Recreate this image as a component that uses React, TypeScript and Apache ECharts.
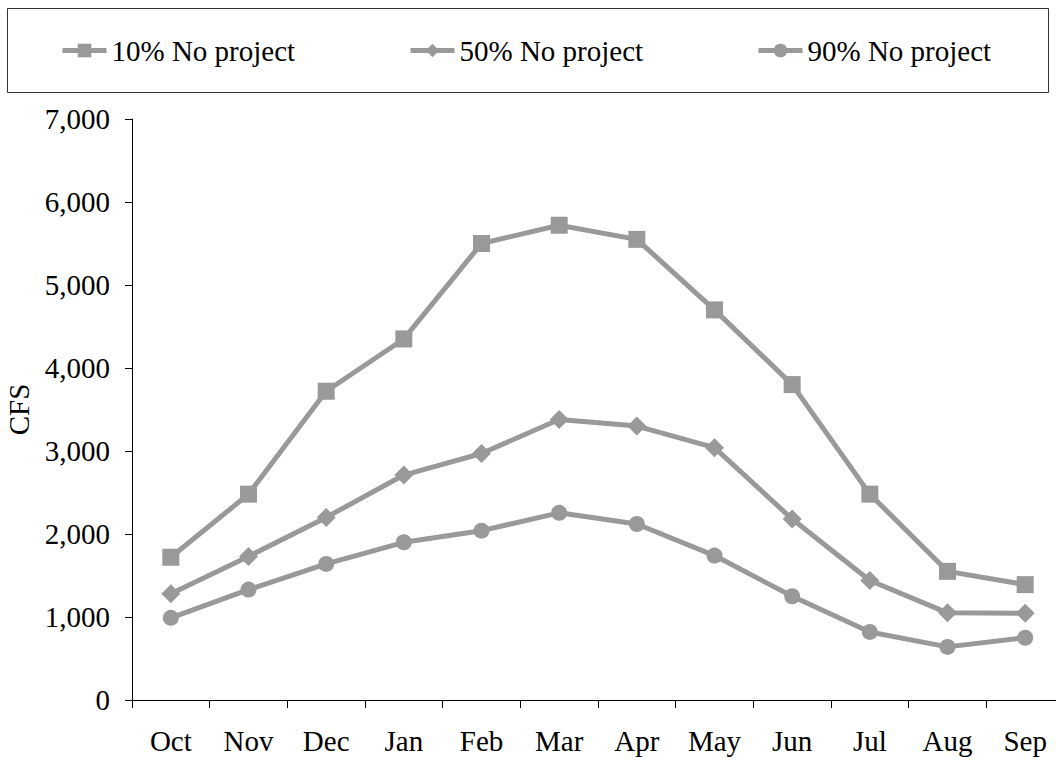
import React, { useEffect, useRef } from "react";
import * as echarts from "echarts";

const months = ["Oct", "Nov", "Dec", "Jan", "Feb", "Mar", "Apr", "May", "Jun", "Jul", "Aug", "Sep"];
const p10 = [1720, 2480, 3720, 4350, 5500, 5720, 5550, 4700, 3800, 2480, 1550, 1390];
const p50 = [1280, 1730, 2200, 2710, 2970, 3380, 3300, 3040, 2180, 1440, 1050, 1045];
const p90 = [990, 1330, 1640, 1900, 2040, 2255, 2120, 1740, 1250, 820, 640, 750];
const seriesNames = ["10% No project", "50% No project", "90% No project"];
const yTicks = { min: 0, max: 7000, interval: 1000 };

const FONT = "'Liberation Serif', 'Times New Roman', serif";
const GRAY = "#999999";

export default function App() {
  const ref = useRef<HTMLDivElement>(null);
  useEffect(() => {
    if (!ref.current) return;
    const chart = echarts.init(ref.current, undefined, { renderer: "svg" });
    const mk = (name: string, data: number[], symbol: string, size: number) => ({
      name,
      type: "line",
      data,
      symbol,
      symbolSize: size,
      lineStyle: { color: GRAY, width: 5 },
      itemStyle: { color: GRAY },
    });
    const legendBase = {
      top: 31,
      itemWidth: 44,
      itemHeight: 17,
      itemGap: 4,
      lineStyle: { width: 5 },
      textStyle: { fontFamily: FONT, fontSize: 29, color: "#000" },
    };
    chart.setOption({
      animation: false,
      backgroundColor: "#fff",
      graphic: [
        {
          type: "rect",
          shape: { x: 7.5, y: 8.5, width: 1041, height: 84 },
          style: { fill: "none", stroke: "#333", lineWidth: 1 },
        },
      ],
      legend: [
        { ...legendBase, left: 55, data: [seriesNames[0]] },
        { ...legendBase, left: 403, data: [seriesNames[1]] },
        { ...legendBase, left: 751, data: [seriesNames[2]] },
      ],
      grid: { left: 132, right: -8, top: 119, bottom: 61, containLabel: false, outerBoundsMode: "none" },
      xAxis: {
        type: "category",
        data: months,
        boundaryGap: true,
        axisLine: { lineStyle: { color: "#000", width: 1 } },
        axisTick: { show: true, length: 8, lineStyle: { color: "#000" } },
        axisLabel: { fontFamily: FONT, fontSize: 29, color: "#000", margin: 26 },
        splitLine: { show: false },
      },
      yAxis: {
        type: "value",
        min: yTicks.min,
        max: yTicks.max,
        interval: yTicks.interval,
        name: "CFS",
        nameLocation: "middle",
        nameGap: 86,
        nameTextStyle: { fontFamily: FONT, fontSize: 29, color: "#000" },
        axisLine: { show: true, lineStyle: { color: "#000", width: 1 } },
        axisTick: { show: true, length: 7, lineStyle: { color: "#000" } },
        axisLabel: {
          fontFamily: FONT,
          fontSize: 29,
          color: "#000",
          margin: 22,
          formatter: (v: number) => v.toLocaleString("en-US"),
        },
        splitLine: { show: false },
      },
      series: [
        mk(seriesNames[0], p10, "rect", 17),
        mk(seriesNames[1], p50, "diamond", 19),
        mk(seriesNames[2], p90, "circle", 16),
      ],
    });
    return () => chart.dispose();
  }, []);
  return <div ref={ref} style={{ width: 1056, height: 761, position: "absolute", left: 0, top: 0 }} />;
}
